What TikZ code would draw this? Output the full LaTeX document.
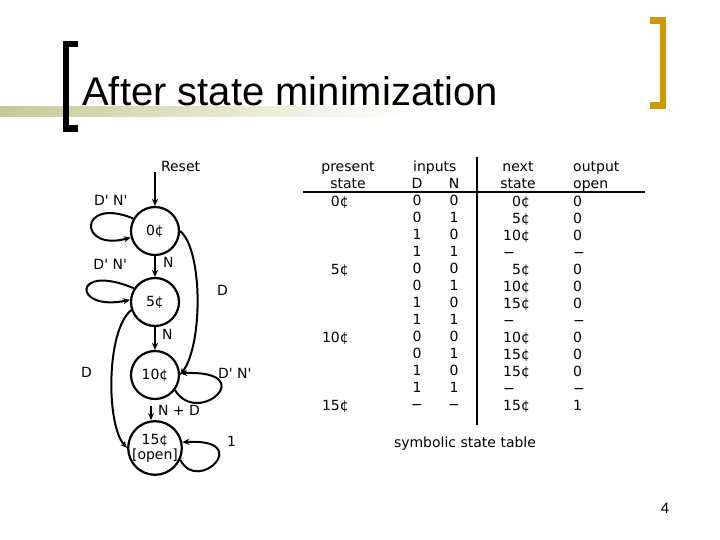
\documentclass[tikz,border=0pt]{standalone}
\usepackage{fontspec}
\setmainfont{DejaVu Sans}
\newfontfamily\arialfont{Liberation Sans}
\usetikzlibrary{positioning, arrows.meta, calc}
\definecolor{barolive}{RGB}{200,200,150}
\definecolor{bracketgold}{RGB}{204,153,0}
\newcommand{\tq}{\textquotesingle}
\newcommand{\nd}{−}
\tikzset{
  coin/.style = {draw, circle, line width=2.2pt,
                 minimum size=48pt, inner sep=0pt, align=center,
                 font=\fontsize{14}{15}\selectfont},
  lbl/.style  = {inner sep=0pt, font=\fontsize{14}{17}\selectfont},
  arr/.style  = {-{Stealth[length=7pt,width=6pt]}, line width=2pt},
  rule/.style = {line width=2.5pt},
}
\begin{document}
\begin{tikzpicture}[x=1pt, y=-1pt]
    \useasboundingbox (0,0) rectangle (720,540);

    % title bar and brackets
    \shade[left color=barolive, right color=white] (0,107) rectangle (410,117);
    \fill (62.7,40.7) rectangle (69.3,131.7);
    \fill (62.7,40.7) rectangle (77.7,47.3);
    \fill (62.7,125) rectangle (77.7,131.7);
    \fill[bracketgold] (660,17) rectangle (666,109);
    \fill[bracketgold] (650,17) rectangle (666,24);
    \fill[bracketgold] (650,102) rectangle (666,109);

    \node[anchor=base west, inner sep=0pt,
          font=\arialfont\fontsize{40}{40}\selectfont] (title) at (82,106)
    {After state minimization};

    % state diagram
    \node[coin] (s0) at (155,231) {0¢};
    \node[coin] (s5) at (155,302) {5¢};
    \node[coin] (s10) at (155,375) {10¢};
    \node[coin] (s15) at (155,448) {15¢\\{[open]}};
    \coordinate (rst) at (155,172);

    \draw[arr] (rst) -- (s0)
    node[lbl, at start, anchor=west, xshift=5pt, yshift=6pt] (lreset) {Reset};

    \draw[arr] (s0.150) .. controls (78,196) and (78,252) .. (s0.195)
    node[lbl, pos=0.2, above=7pt, xshift=4pt] (ls0) {D\tq{} N\tq};

    \draw[arr] (s0) -- (s5)
    node[lbl, pos=0.3, right=7pt] (lN1) {N};

    \draw[arr] (s5.147) .. controls (72,262) and (72,312) .. (s5.175)
    node[lbl, pos=0.2, above=10pt, xshift=6pt] (ls5) {D\tq{} N\tq};

    \draw[arr] (s0.east) .. controls (203,250) and (203,345) .. (s10.east)
    node[lbl, pos=0.45, right=19pt] (lD1) {D};

    \draw[arr] (s5) -- (s10)
    node[lbl, pos=0.32, right=6pt] (lN2) {N};

    \draw[arr] (s5.199) .. controls (106,330) and (106,425) .. (s15.west)
    node[lbl, pos=0.47, left=19pt] (lD2) {D};

    \draw[arr] (s10.-37) .. controls (198,428) and (262,370) .. (s10.4)
    node[lbl, pos=0.75, anchor=south west] (ls10) {D\tq{} N\tq};

    \draw[arr, shorten <=6pt] ([xshift=-4pt]s10.south) -- ([xshift=-4pt]s15.north)
    node[lbl, midway, right=6pt] (lND) {N + D};

    \draw[arr] (s15.-25) .. controls (198,495) and (255,438) .. (s15.12)
    node[lbl, pos=0.75, anchor=west, xshift=11pt, yshift=7pt] (ls15) {1};

    % symbolic state table
    \node[lbl, anchor=north, align=center] (hpres) at (348,161) {present\\state};
    \node[lbl, anchor=north west] (hin) at (413,161) {inputs};
    \node[lbl, anchor=north, align=center] (hnext) at (518,161) {next\\state};
    \node[lbl, anchor=north west, align=left] (hout) at (573,161) {output\\open};

    \node[lbl, anchor=north east, align=right] (cpres) at (349,196)
    {0¢\\[51pt]5¢\\[51pt]10¢\\[51pt]15¢};
    \node[lbl, anchor=north, align=center] (cD) at (417,178)
    {D\\0\\0\\1\\1\\0\\0\\1\\1\\0\\0\\1\\1\\\nd};
    \node[lbl, anchor=north, align=center] (cN) at (454,178)
    {N\\0\\1\\0\\1\\0\\1\\0\\1\\0\\1\\0\\1\\\nd};
    \node[lbl, anchor=north west, align=left] (cnext) at (503,196)
    {\hphantom{1}0¢\\\hphantom{1}5¢\\10¢\\\nd\\\hphantom{1}5¢\\10¢\\15¢\\\nd\\10¢\\15¢\\15¢\\\nd\\15¢};
    \node[lbl, anchor=north west, align=left] (cout) at (573,196)
    {0\\0\\0\\\nd\\0\\0\\0\\\nd\\0\\0\\0\\\nd\\1};

    \draw[rule] (303,192) -- (645,192);
    \draw[rule] (477,157) -- (477,425);

    \node[lbl] (caption) at (465,444) {symbolic state table};

    \node[font=\arialfont\fontsize{15}{15}\selectfont] (pagenum) at (665,508) {4};

\end{tikzpicture}
\end{document}
